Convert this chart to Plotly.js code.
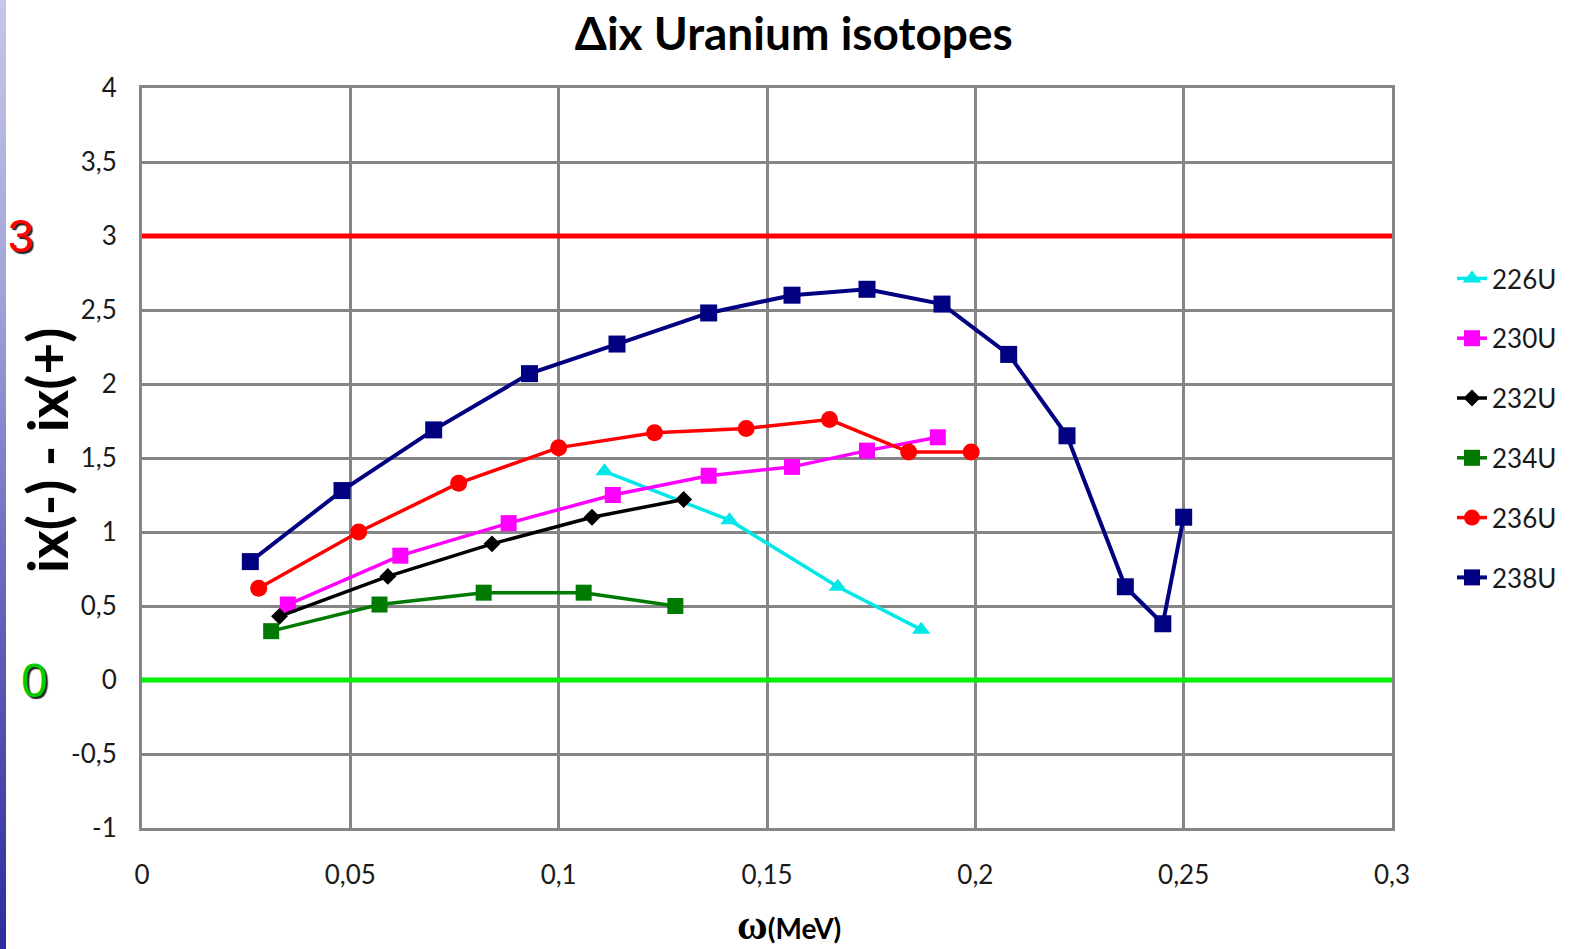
<!DOCTYPE html>
<html>
<head>
<meta charset="utf-8">
<script src="https://cdn.plot.ly/plotly-3.0.1.min.js"></script>
<style>
  html, body { margin: 0; padding: 0; background: #ffffff; }
  #wrap { position: relative; width: 1575px; height: 949px; overflow: hidden; }
  #chart { position: absolute; left: 0; top: 0; width: 1575px; height: 949px; }
  /* slide edge strip on the left */
  #edge {
    position: absolute; left: 0; top: 0; width: 6px; height: 949px; z-index: 5;
    background: linear-gradient(#c6c6e8 0%, #a4a4da 30%, #6a6ac0 60%, #2c2c9e 100%);
  }
</style>
</head>
<body>
<div id="wrap">
  <div id="chart"></div>
  <div id="edge"></div>
</div>
<script>
// Isotope labels
const isotopes = ['226U', '230U', '232U', '234U', '236U', '238U'];

// Rotational frequency ω (MeV) and ix(-) - ix(+) for each isotope
const omega226 = [0.111, 0.141, 0.167, 0.187];
const dix226   = [1.41, 1.08, 0.63, 0.34];

const omega230 = [0.035, 0.062, 0.088, 0.113, 0.136, 0.156, 0.174, 0.191];
const dix230   = [0.51, 0.84, 1.06, 1.25, 1.38, 1.44, 1.55, 1.64];

const omega232 = [0.033, 0.059, 0.084, 0.108, 0.130];
const dix232   = [0.43, 0.70, 0.92, 1.10, 1.22];

const omega234 = [0.031, 0.057, 0.082, 0.106, 0.128];
const dix234   = [0.33, 0.51, 0.59, 0.59, 0.50];

const omega236 = [0.028, 0.052, 0.076, 0.100, 0.123, 0.145, 0.165, 0.184, 0.199];
const dix236   = [0.62, 1.00, 1.33, 1.57, 1.67, 1.70, 1.76, 1.54, 1.54];

const omega238 = [0.026, 0.048, 0.070, 0.093, 0.114, 0.136, 0.156, 0.174, 0.192, 0.208, 0.222, 0.236, 0.245, 0.250];
const dix238   = [0.80, 1.28, 1.69, 2.07, 2.27, 2.48, 2.60, 2.64, 2.54, 2.20, 1.65, 0.63, 0.38, 1.10];

// Reference levels
const upperLevel = 3;
const lowerLevel = 0;

// Axis ticks (decimal comma)
const xTickVals = [0, 0.05, 0.1, 0.15, 0.2, 0.25, 0.3];
const xTickText = ['0', '0,05', '0,1', '0,15', '0,2', '0,25', '0,3'];
const yTickVals = [4, 3.5, 3, 2.5, 2, 1.5, 1, 0.5, 0, -0.5, -1];
const yTickText = ['4', '3,5', '3', '2,5', '2', '1,5', '1', '0,5', '0', '-0,5', '-1'];

const FONT = 'Lato, "Open Sans", sans-serif';
const GRID = '#858585';

function series(name, x, y, color, symbol, size, width, group) {
  return {
    type: 'scatter', mode: 'lines+markers', name: name, x: x, y: y,
    legendgroup: group,
    line: { color: color, width: width },
    marker: { color: color, symbol: symbol, size: size, line: { width: 0 } },
    hoverinfo: 'x+y+name'
  };
}

const traces = [
  series(isotopes[0], omega226, dix226, '#00e8e8', 'triangle-up', 16, 3.5, 'a'),
  series(isotopes[1], omega230, dix230, '#ff00ff', 'square', 16, 3.5, 'b'),
  series(isotopes[2], omega232, dix232, '#000000', 'diamond', 13, 3.5, 'c'),
  series(isotopes[3], omega234, dix234, '#007a00', 'square', 16, 3.5, 'd'),
  series(isotopes[4], omega236, dix236, '#ff0000', 'circle', 17, 3.5, 'e'),
  series(isotopes[5], omega238, dix238, '#000080', 'square', 17, 4, 'f')
];

const layout = {
  width: 1575, height: 949,
  paper_bgcolor: '#ffffff', plot_bgcolor: '#ffffff',
  margin: { l: 142, r: 183, t: 88, b: 121, pad: 0 },
  font: { family: FONT, color: '#1a1a1a' },
  showlegend: true,
  title: {
    text: 'Δix Uranium isotopes',
    font: { family: FONT, size: 46, weight: 'bold', color: '#000000' },
    xref: 'container', x: 0.504, xanchor: 'center',
    yref: 'container', y: 1 - 34 / 949, yanchor: 'middle'
  },
  xaxis: {
    range: [0, 0.3], fixedrange: true,
    tickmode: 'array', tickvals: xTickVals, ticktext: xTickText,
    tickfont: { family: FONT, size: 26, color: '#1a1a1a' },
    ticks: '', ticklabelstandoff: 22,
    showgrid: true, gridcolor: GRID, gridwidth: 3,
    showline: true, mirror: true, linecolor: GRID, linewidth: 3,
    zeroline: false
  },
  yaxis: {
    range: [-1, 4], fixedrange: true,
    tickmode: 'array', tickvals: yTickVals, ticktext: yTickText,
    tickfont: { family: FONT, size: 26, color: '#1a1a1a' },
    ticks: '', ticklabelstandoff: 17,
    showgrid: true, gridcolor: GRID, gridwidth: 3,
    showline: true, mirror: true, linecolor: GRID, linewidth: 3,
    zeroline: false
  },
  legend: {
    x: (1452 - 142) / 1250, xanchor: 'left',
    y: (828 - 428) / 740, yanchor: 'middle',
    font: { family: FONT, size: 26, color: '#1a1a1a' },
    bgcolor: 'rgba(0,0,0,0)', borderwidth: 0,
    traceorder: 'grouped', tracegroupgap: 23
  },
  shapes: [
    { type: 'line', xref: 'x', yref: 'y', x0: 0, x1: 0.3, y0: upperLevel, y1: upperLevel,
      line: { color: '#ff0000', width: 5 } },
    { type: 'line', xref: 'x', yref: 'y', x0: 0, x1: 0.3, y0: lowerLevel, y1: lowerLevel,
      line: { color: '#00ee00', width: 5 } }
  ],
  annotations: [
    { text: 'ix(-) - ix(+)', textangle: -90, showarrow: false,
      xref: 'paper', yref: 'paper', x: (47 - 142) / 1250, y: (828 - 451) / 740,
      xanchor: 'center', yanchor: 'middle',
      font: { family: FONT, size: 55, weight: 'bold', color: '#000000' } },
    { text: '<span style="font-family:\'Liberation Serif\',serif;font-size:42px">ω</span>(MeV)',
      showarrow: false,
      xref: 'paper', yref: 'paper', x: (789 - 142) / 1250, y: (828 - 925) / 740,
      xanchor: 'center', yanchor: 'middle',
      font: { family: FONT, size: 28, weight: 'bold', color: '#000000' } },
    { text: String(upperLevel), showarrow: false,
      xref: 'paper', yref: 'y', x: (21 - 142) / 1250, y: upperLevel,
      xanchor: 'center', yanchor: 'middle',
      font: { family: '"Liberation Sans", Arial, sans-serif', size: 46, color: '#ff0000',
              shadow: '2px 2px 1px #222222' } },
    { text: String(lowerLevel), showarrow: false,
      xref: 'paper', yref: 'y', x: (34 - 142) / 1250, y: lowerLevel,
      xanchor: 'center', yanchor: 'middle',
      font: { family: '"Liberation Sans", Arial, sans-serif', size: 48, color: '#00cc00',
              shadow: '2px 2px 1px #222222' } }
  ]
};

Plotly.newPlot('chart', traces, layout, { staticPlot: true, displayModeBar: false });
</script>
</body>
</html>
